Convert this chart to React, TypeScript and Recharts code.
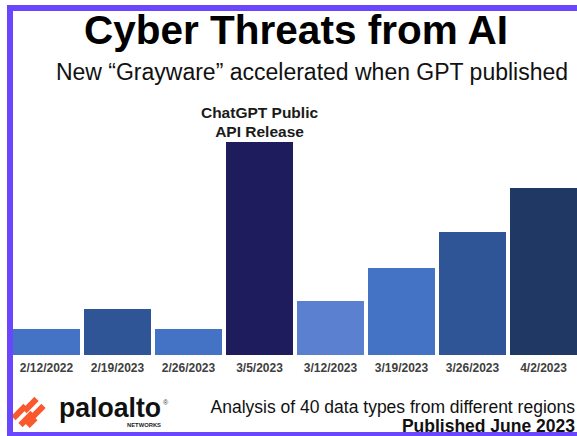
import React from "react";
import { BarChart, Bar, XAxis, YAxis, Cell, LabelList } from "recharts";

const categories = ["2/12/2022", "2/19/2023", "2/26/2023", "3/5/2023", "3/12/2023", "3/19/2023", "3/26/2023", "4/2/2023"];
const threatValues = [26, 46, 26, 213, 54, 87, 123, 167];
const barColors = ["#4472C4", "#2F5597", "#4472C4", "#1F1C5E", "#5A80CF", "#4472C4", "#2F5597", "#203864"];
const notes = ["", "", "", "ChatGPT Public|API Release", "", "", "", ""];

const data = categories.map((c, i) => ({ date: c, value: threatValues[i], note: notes[i] }));

const FONT = "'Liberation Sans', Arial, Helvetica, sans-serif";
const BORDER = "#6B46FF";

const Tick = (props: any) => {
  const { x, y, payload } = props;
  return (
    <text x={x} y={y + 17} textAnchor="middle" fontFamily={FONT} fontWeight="bold" fontSize={12} fill="#404040">
      {payload.value}
    </text>
  );
};

const NoteLabel = (props: any) => {
  const { x, y, width, value } = props;
  if (!value) return null;
  const lines = String(value).split("|");
  const cx = Number(x) + Number(width) / 2;
  return (
    <g>
      {lines.map((l, i) => (
        <text key={i} x={cx} y={Number(y) - 24 + i * 19} textAnchor="middle" fontFamily={FONT} fontWeight="bold" fontSize={15.5} fill="#1a1a1a">
          {l}
        </text>
      ))}
    </g>
  );
};

export default function App() {
  return (
    <div style={{ position: "absolute", left: 0, top: 0, width: 577, height: 436, overflow: "hidden", background: "#fff" }}>
      <div style={{ position: "absolute", left: 0, top: 0 }}>
        <BarChart width={600} height={436} data={data} margin={{ top: 115, right: 21, bottom: 51, left: 11 }}>
          <YAxis hide domain={[0, 240]} />
          <XAxis dataKey="date" height={30} axisLine={false} tickLine={false} tickSize={0} tickMargin={0} tick={<Tick />} interval={0} />
          <Bar dataKey="value" barSize={67} isAnimationActive={false}>
            {data.map((d, i) => (
              <Cell key={d.date} fill={barColors[i]} />
            ))}
            <LabelList dataKey="note" content={<NoteLabel />} />
          </Bar>
        </BarChart>
      </div>
      <svg width={577} height={436} style={{ position: "absolute", left: 0, top: 0, pointerEvents: "none" }}>
        <text x={296} y={44} textAnchor="middle" fontFamily={FONT} fontWeight="bold" fontSize={40.5} fill="#000">
          Cyber Threats from AI
        </text>
        <text x={312} y={80} textAnchor="middle" fontFamily={FONT} fontSize={23} fill="#111">
          New “Grayware” accelerated when GPT published
        </text>
        <text x={575} y={413} textAnchor="end" fontFamily={FONT} fontSize={17.5} fill="#111">
          Analysis of 40 data types from different regions
        </text>
        <text x={575} y={432} textAnchor="end" fontFamily={FONT} fontWeight="bold" fontSize={17.5} fill="#111">
          Published June 2023
        </text>
        <g fill="#FA582D">
          <rect x={11} y={409} width={17} height={6} transform="rotate(-45 19.5 412)" />
          <rect x={18} y={416} width={17} height={6} transform="rotate(-45 26.5 419)" />
          <rect x={22} y={402} width={17} height={6} transform="rotate(-45 30.5 405)" />
          <rect x={29} y={409} width={17} height={6} transform="rotate(-45 37.5 412)" />
          <rect x={26} y={419} width={11} height={6} transform="rotate(-45 31.5 422)" />
        </g>
        <text x={59} y={417} fontFamily={FONT} fontWeight="bold" fontSize={27} fill="#111" textLength={102} lengthAdjust="spacingAndGlyphs">
          paloalto
        </text>
        <text x={163} y={405} fontFamily={FONT} fontSize={7} fill="#444">®</text>
        <text x={127} y={427} fontFamily={FONT} fontWeight="bold" fontSize={5.5} fill="#222" textLength={34} lengthAdjust="spacingAndGlyphs">
          NETWORKS
        </text>
      </svg>
      <div style={{ position: "absolute", left: 7, top: 5, width: 570, height: 6, background: BORDER }} />
      <div style={{ position: "absolute", left: 7, top: 5, width: 6, height: 431, background: BORDER }} />
      <div style={{ position: "absolute", left: 7, top: 432, width: 570, height: 4, background: BORDER }} />
    </div>
  );
}
